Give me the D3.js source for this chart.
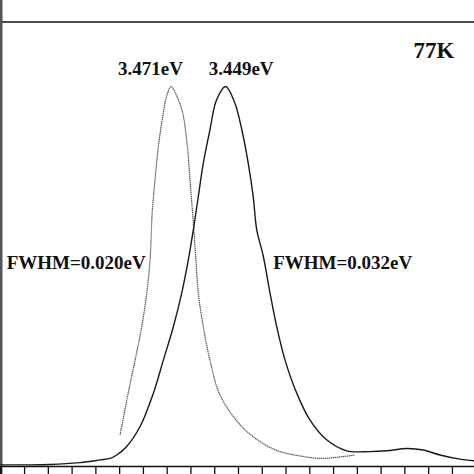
<!DOCTYPE html>
<html>
<head>
<meta charset="utf-8">
<script src="https://cdn.jsdelivr.net/npm/d3@7"></script>
<style>
  html, body { margin: 0; padding: 0; background: #fff; }
  svg text { font-family: "Liberation Serif", "Times New Roman", serif; font-weight: bold; fill: #111; }
</style>
</head>
<body>
<div id="chart"></div>
<script>
// wavelength (nm) and normalized PL intensity
const solidX = [350.0, 351.04, 352.09, 353.35, 354.2, 354.62, 354.9, 355.3, 355.88, 356.44, 356.86, 357.28, 357.63, 357.91, 358.12, 358.33, 358.54, 358.82, 359.1, 359.48, 359.87, 360.16, 360.43, 360.64, 360.79, 361.06, 361.35, 361.63, 361.98, 362.47, 363.03, 363.73, 364.57, 365.55, 366.26, 367.1, 367.8, 368.5, 369.34, 369.93];
const solidY = [0.003, 0.003, 0.004, 0.009, 0.016, 0.020, 0.029, 0.050, 0.104, 0.192, 0.279, 0.367, 0.455, 0.543, 0.622, 0.710, 0.798, 0.886, 0.965, 1.0, 0.956, 0.886, 0.798, 0.710, 0.622, 0.554, 0.455, 0.367, 0.279, 0.192, 0.121, 0.069, 0.040, 0.038, 0.040, 0.046, 0.042, 0.029, 0.018, 0.014];

const dottedX = [355.04, 355.38, 355.67, 355.95, 356.16, 356.3, 356.39, 356.51, 356.65, 356.86, 356.99, 357.18, 357.43, 357.67, 357.87, 357.98, 358.09, 358.22, 358.33, 358.54, 358.82, 359.24, 359.95, 360.64, 361.63, 362.75, 363.45, 364.15, 364.92];
const dottedY = [0.082, 0.192, 0.279, 0.367, 0.455, 0.543, 0.667, 0.754, 0.842, 0.931, 0.973, 1.0, 0.974, 0.931, 0.842, 0.754, 0.667, 0.552, 0.456, 0.367, 0.279, 0.187, 0.119, 0.077, 0.041, 0.025, 0.020, 0.023, 0.029];

const xTicks = d3.range(350, 371, 1);

const labels = [
  { text: "3.471eV", x: 357.18, y: 1.0, dx: -53, dy: -12, size: 19 },
  { text: "3.449eV", x: 359.48, y: 1.0, dx: -17, dy: -12, size: 19 },
  { text: "FWHM=0.020eV", x: 350.27, y: 0.52, dx: 0, dy: 0, size: 19 },
  { text: "FWHM=0.032eV", x: 361.48, y: 0.52, dx: 0, dy: 0, size: 19 },
  { text: "77K", x: 367.38, y: 1.075, dx: 0, dy: 0, size: 23 }
];

const width = 474, height = 474;
const svg = d3.select("#chart").append("svg")
  .attr("width", width)
  .attr("height", height);

const x = d3.scaleLinear().domain([350, 370]).range([0.3, 475.7]);
const y = d3.scaleLinear().domain([0, 1.17]).range([466, 22]);

// frame: top line and left edge
svg.append("line")
  .attr("x1", 0).attr("x2", width)
  .attr("y1", y(1.17)).attr("y2", y(1.17))
  .attr("stroke", "#111").attr("stroke-width", 1.5);
svg.append("line")
  .attr("x1", 1).attr("x2", 1)
  .attr("y1", 0).attr("y2", height)
  .attr("stroke", "#555").attr("stroke-width", 3);

// bottom axis with outward ticks, no labels
const xAxis = d3.axisBottom(x).tickValues(xTicks).tickSize(9).tickFormat("");
const gx = svg.append("g")
  .attr("transform", `translate(0,${y(0)})`)
  .call(xAxis);
gx.select(".domain").attr("stroke", "#111").attr("stroke-width", 1.5);
gx.selectAll(".tick line").attr("stroke", "#111").attr("stroke-width", 1.3);

const line = d3.line()
  .x(d => x(d[0]))
  .y(d => y(d[1]))
  .curve(d3.curveCatmullRom.alpha(0.5));

svg.append("path")
  .datum(d3.zip(dottedX, dottedY))
  .attr("fill", "none")
  .attr("stroke", "#555")
  .attr("stroke-width", 1.2)
  .attr("stroke-dasharray", "1.4,0.6")
  .attr("d", line);

svg.append("path")
  .datum(d3.zip(solidX, solidY))
  .attr("fill", "none")
  .attr("stroke", "#1a1a1a")
  .attr("stroke-width", 1.4)
  .attr("d", line);

svg.selectAll("text.lbl")
  .data(labels)
  .enter().append("text")
  .attr("class", "lbl")
  .attr("x", d => x(d.x) + d.dx)
  .attr("y", d => y(d.y) + d.dy)
  .style("font-size", d => d.size + "px")
  .text(d => d.text);
</script>
</body>
</html>
